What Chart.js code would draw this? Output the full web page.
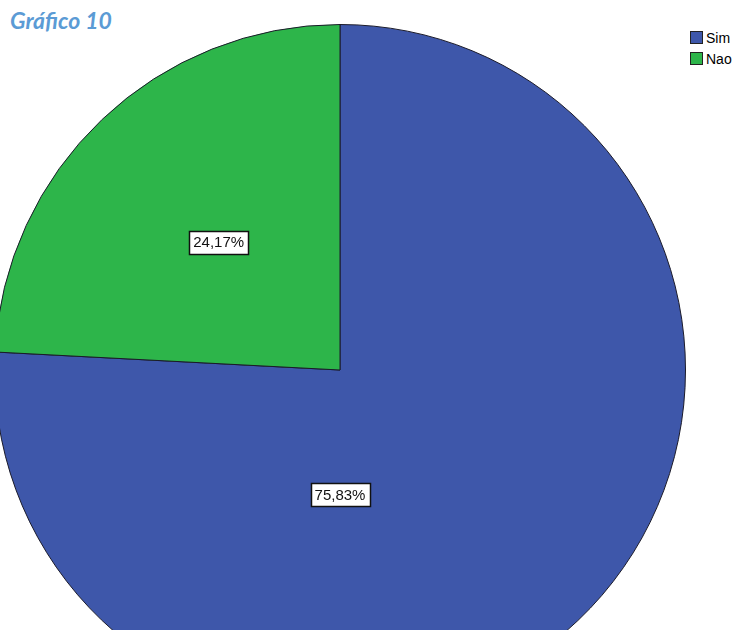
<!DOCTYPE html>
<html>
<head>
<meta charset="utf-8">
<script src="https://cdn.jsdelivr.net/npm/chart.js@4"></script>
<style>
  html, body { margin: 0; padding: 0; background: #fff; overflow: hidden; }
  body { width: 737px; height: 630px; position: relative; }
  #title {
    position: absolute; left: 10px; top: 6px;
    font: italic bold 23px Lato, "Open Sans", sans-serif;
    color: #5b9bd5;
  }
  #pieWrap { position: absolute; left: -6px; top: 24px; width: 692px; height: 692px; }
  #legend {
    position: absolute; left: 690px; top: 27px;
    font: 14px "Liberation Sans", Arial, sans-serif; color: #000;
    white-space: nowrap;
  }
  #legend div { display: flex; align-items: center; height: 21px; }
  #legend span.box {
    display: inline-block; width: 11px; height: 11px;
    border: 1px solid #222; margin-right: 3px;
  }
</style>
</head>
<body>
<div id="title">Gráfico 10</div>
<div id="pieWrap"><canvas id="pie" width="692" height="692"></canvas></div>
<div id="legend"></div>

<script>
// categories and shares (%)
const categories = ['Sim', 'Nao'];
const shares = [75.83, 24.17];
const sliceColors = ['#3e57aa', '#2db54a'];
// where each value box sits: angle (deg, clockwise from top) and fraction of radius
const labelAngles = [180, 316.5];
const labelRadius = [0.36, 0.51];

// value boxes drawn on top of the slices
const boxLabels = {
  id: 'boxLabels',
  afterDatasetsDraw(chart) {
    const ctx = chart.ctx;
    const meta = chart.getDatasetMeta(0);
    ctx.save();
    ctx.font = '15px "Liberation Sans", Arial, sans-serif';
    ctx.textAlign = 'center';
    ctx.textBaseline = 'middle';
    meta.data.forEach((arc, i) => {
      const a = labelAngles[i] * Math.PI / 180;
      const r = arc.outerRadius * labelRadius[i];
      const x = arc.x + Math.sin(a) * r;
      const y = arc.y - Math.cos(a) * r;
      const txt = shares[i].toFixed(2).replace('.', ',') + '%';
      const w = Math.round(ctx.measureText(txt).width + 8);
      const h = 23;
      const bx = Math.round(x - w / 2) + 0.5;
      const by = Math.round(y - h / 2) + 0.5;
      ctx.fillStyle = '#fff';
      ctx.fillRect(bx, by, w, h);
      ctx.strokeStyle = '#111';
      ctx.lineWidth = 1.5;
      ctx.strokeRect(bx, by, w, h);
      ctx.fillStyle = '#111';
      ctx.fillText(txt, x, y + 1);
    });
    ctx.restore();
  }
};

const pieChart = new Chart(document.getElementById('pie'), {
  type: 'pie',
  data: {
    labels: categories,
    datasets: [{
      data: shares,
      backgroundColor: sliceColors,
      borderColor: '#1b1b2a',
      borderWidth: 1
    }]
  },
  options: {
    responsive: false,
    animation: false,
    devicePixelRatio: 1,
    plugins: {
      legend: { display: false },
      tooltip: { enabled: false }
    }
  },
  plugins: [boxLabels]
});

// legend built from the same arrays
const legendEl = document.getElementById('legend');
categories.forEach((name, i) => {
  const row = document.createElement('div');
  row.innerHTML = '<span class="box" style="background:' + sliceColors[i] + '"></span>' + name;
  legendEl.appendChild(row);
});
</script>
</body>
</html>
